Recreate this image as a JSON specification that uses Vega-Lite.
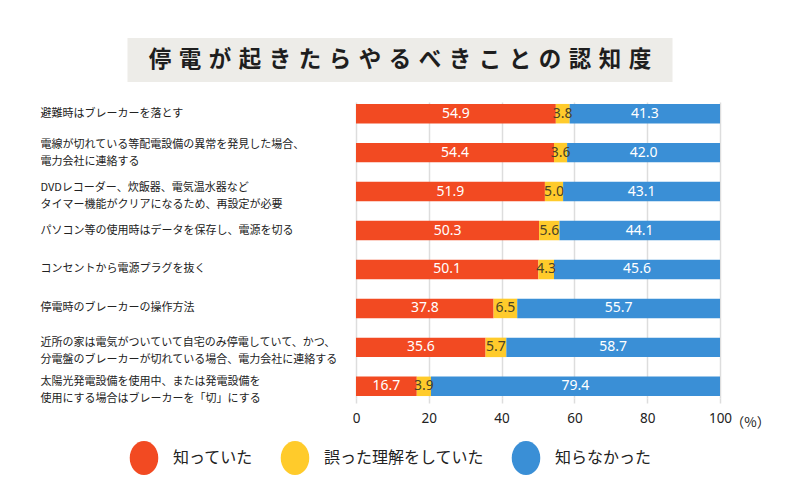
{
  "$schema": "https://vega.github.io/schema/vega-lite/v6.json",
  "background": "white",
  "padding": {"left": 40, "top": 38, "right": 20, "bottom": 10},
  "config": {"view": {"stroke": null}, "font": "Noto Sans CJK JP"},
  "datasets": {
    "rows": [
      {"item": "避難時はブレーカーを落とす", "io": 1, "cat": "知っていた", "co": 1, "value": 54.9},
      {"item": "避難時はブレーカーを落とす", "io": 1, "cat": "誤った理解をしていた", "co": 2, "value": 3.8},
      {"item": "避難時はブレーカーを落とす", "io": 1, "cat": "知らなかった", "co": 3, "value": 41.3},
      {"item": "電線が切れている等配電設備の異常を発見した場合、\n電力会社に連絡する", "io": 2, "cat": "知っていた", "co": 1, "value": 54.4},
      {"item": "電線が切れている等配電設備の異常を発見した場合、\n電力会社に連絡する", "io": 2, "cat": "誤った理解をしていた", "co": 2, "value": 3.6},
      {"item": "電線が切れている等配電設備の異常を発見した場合、\n電力会社に連絡する", "io": 2, "cat": "知らなかった", "co": 3, "value": 42.0},
      {"item": "DVDレコーダー、炊飯器、電気温水器など\nタイマー機能がクリアになるため、再設定が必要", "io": 3, "cat": "知っていた", "co": 1, "value": 51.9},
      {"item": "DVDレコーダー、炊飯器、電気温水器など\nタイマー機能がクリアになるため、再設定が必要", "io": 3, "cat": "誤った理解をしていた", "co": 2, "value": 5.0},
      {"item": "DVDレコーダー、炊飯器、電気温水器など\nタイマー機能がクリアになるため、再設定が必要", "io": 3, "cat": "知らなかった", "co": 3, "value": 43.1},
      {"item": "パソコン等の使用時はデータを保存し、電源を切る", "io": 4, "cat": "知っていた", "co": 1, "value": 50.3},
      {"item": "パソコン等の使用時はデータを保存し、電源を切る", "io": 4, "cat": "誤った理解をしていた", "co": 2, "value": 5.6},
      {"item": "パソコン等の使用時はデータを保存し、電源を切る", "io": 4, "cat": "知らなかった", "co": 3, "value": 44.1},
      {"item": "コンセントから電源プラグを抜く", "io": 5, "cat": "知っていた", "co": 1, "value": 50.1},
      {"item": "コンセントから電源プラグを抜く", "io": 5, "cat": "誤った理解をしていた", "co": 2, "value": 4.3},
      {"item": "コンセントから電源プラグを抜く", "io": 5, "cat": "知らなかった", "co": 3, "value": 45.6},
      {"item": "停電時のブレーカーの操作方法", "io": 6, "cat": "知っていた", "co": 1, "value": 37.8},
      {"item": "停電時のブレーカーの操作方法", "io": 6, "cat": "誤った理解をしていた", "co": 2, "value": 6.5},
      {"item": "停電時のブレーカーの操作方法", "io": 6, "cat": "知らなかった", "co": 3, "value": 55.7},
      {"item": "近所の家は電気がついていて自宅のみ停電していて、かつ、\n分電盤のブレーカーが切れている場合、電力会社に連絡する", "io": 7, "cat": "知っていた", "co": 1, "value": 35.6},
      {"item": "近所の家は電気がついていて自宅のみ停電していて、かつ、\n分電盤のブレーカーが切れている場合、電力会社に連絡する", "io": 7, "cat": "誤った理解をしていた", "co": 2, "value": 5.7},
      {"item": "近所の家は電気がついていて自宅のみ停電していて、かつ、\n分電盤のブレーカーが切れている場合、電力会社に連絡する", "io": 7, "cat": "知らなかった", "co": 3, "value": 58.7},
      {"item": "太陽光発電設備を使用中、または発電設備を\n使用にする場合はブレーカーを「切」にする", "io": 8, "cat": "知っていた", "co": 1, "value": 16.7},
      {"item": "太陽光発電設備を使用中、または発電設備を\n使用にする場合はブレーカーを「切」にする", "io": 8, "cat": "誤った理解をしていた", "co": 2, "value": 3.9},
      {"item": "太陽光発電設備を使用中、または発電設備を\n使用にする場合はブレーカーを「切」にする", "io": 8, "cat": "知らなかった", "co": 3, "value": 79.4}
    ]
  },
  "vconcat": [
    {
      "width": 545,
      "height": 44,
      "view": {"fill": "#EDECE8", "stroke": null},
      "data": {"values": [{"t": "停\u2004電\u2004が\u2004起\u2004き\u2004た\u2004ら\u2004や\u2004る\u2004べ\u2004き\u2004こ\u2004と\u2004の\u2004認\u2004知\u2004度"}]},
      "mark": {"type": "text", "fontSize": 22.5, "fontWeight": "bold", "font": "Noto Sans CJK JP", "color": "#1e1e1e"},
      "encoding": {"text": {"field": "t", "type": "nominal"}}
    },
    {
      "name": "main",
      "width": 720,
      "height": 296,
      "data": {"name": "rows"},
      "transform": [
        {"stack": "value", "groupby": ["item"], "sort": [{"field": "co", "order": "ascending"}], "as": ["v0", "v1"]}
      ],
      "encoding": {
        "y": {
          "field": "item",
          "type": "nominal",
          "sort": {"field": "io", "op": "min"},
          "scale": {"paddingInner": 0.5, "paddingOuter": 0.05},
          "axis": {
            "title": null,
            "domain": false,
            "ticks": false,
            "labelAlign": "left",
            "labelPadding": 0,
            "labelFontSize": 11,
            "labelFont": "Noto Sans CJK JP",
            "labelColor": "#222222",
            "labelLimit": 0,
            "labelLineHeight": 17,
            "labelOffset": {
              "condition": [
                {"test": "indexof(datum.value, '電線') == 0", "value": -8},
                {"test": "indexof(datum.value, '\\n') >= 0", "value": -4}
              ],
              "value": 0
            },
            "labelExpr": "split(datum.label, '\\n')"
          }
        }
      },
      "layer": [
        {
          "mark": {"type": "bar"},
          "encoding": {
            "x": {
              "field": "v0",
              "type": "quantitative",
              "scale": {"domain": [-86.81, 110.99], "nice": false, "zero": false},
              "axis": {
                "values": [0, 20, 40, 60, 80, 100],
                "domain": false,
                "grid": true,
                "gridColor": "#dddddd",
                "gridWidth": 1.5,
                "tickColor": "#dddddd",
                "tickWidth": 1.5,
                "tickSize": 5,
                "labelFont": "Noto Sans",
                "labelFontSize": 13.5,
                "labelColor": "#222222",
                "labelPadding": 8,
                "title": "（%）",
                "titleFont": "Noto Sans CJK JP",
                "titleFontSize": 13.5,
                "titleFontWeight": "normal",
                "titleColor": "#222222",
                "titleX": 710,
                "titleY": 24,
                "titleAlign": "center",
                "titleBaseline": "middle"
              }
            },
            "x2": {"field": "v1"},
            "color": {
              "field": "cat",
              "type": "nominal",
              "scale": {
                "domain": ["知っていた", "誤った理解をしていた", "知らなかった"],
                "range": ["#F24A22", "#FFCB2B", "#3A8FD6"]
              },
              "legend": {
                "title": null,
                "orient": "none",
                "legendX": 87,
                "legendY": 403,
                "direction": "horizontal",
                "symbolType": "M-0.84,0A0.84,1 0 1,1 0.84,0A0.84,1 0 1,1 -0.84,0Z",
                "symbolSize": 1156,
                "symbolStrokeWidth": 0,
                "symbolOpacity": 1,
                "labelFont": "Noto Sans CJK JP",
                "labelFontSize": 16,
                "labelColor": "#222222",
                "labelOffset": 12,
                "columnPadding": 24,
                "labelLimit": 0
              }
            }
          }
        },
        {
          "mark": {
            "type": "text",
            "font": "Noto Sans",
            "fontSize": 14,
            "align": "center",
            "baseline": "middle",
            "dx": {"expr": "(scale('main_x', datum.v1) - scale('main_x', datum.v0)) / 2"}
          },
          "encoding": {
            "x": {"field": "v0", "type": "quantitative"},
            "text": {"field": "value", "type": "quantitative", "format": ".1f"},
            "color": {
              "condition": {"test": "datum.cat == '誤った理解をしていた'", "value": "#4a4326"},
              "value": "#ffffff"
            }
          }
        }
      ]
    }
  ],
  "spacing": 20,
  "bounds": "flush",
  "center": true
}
